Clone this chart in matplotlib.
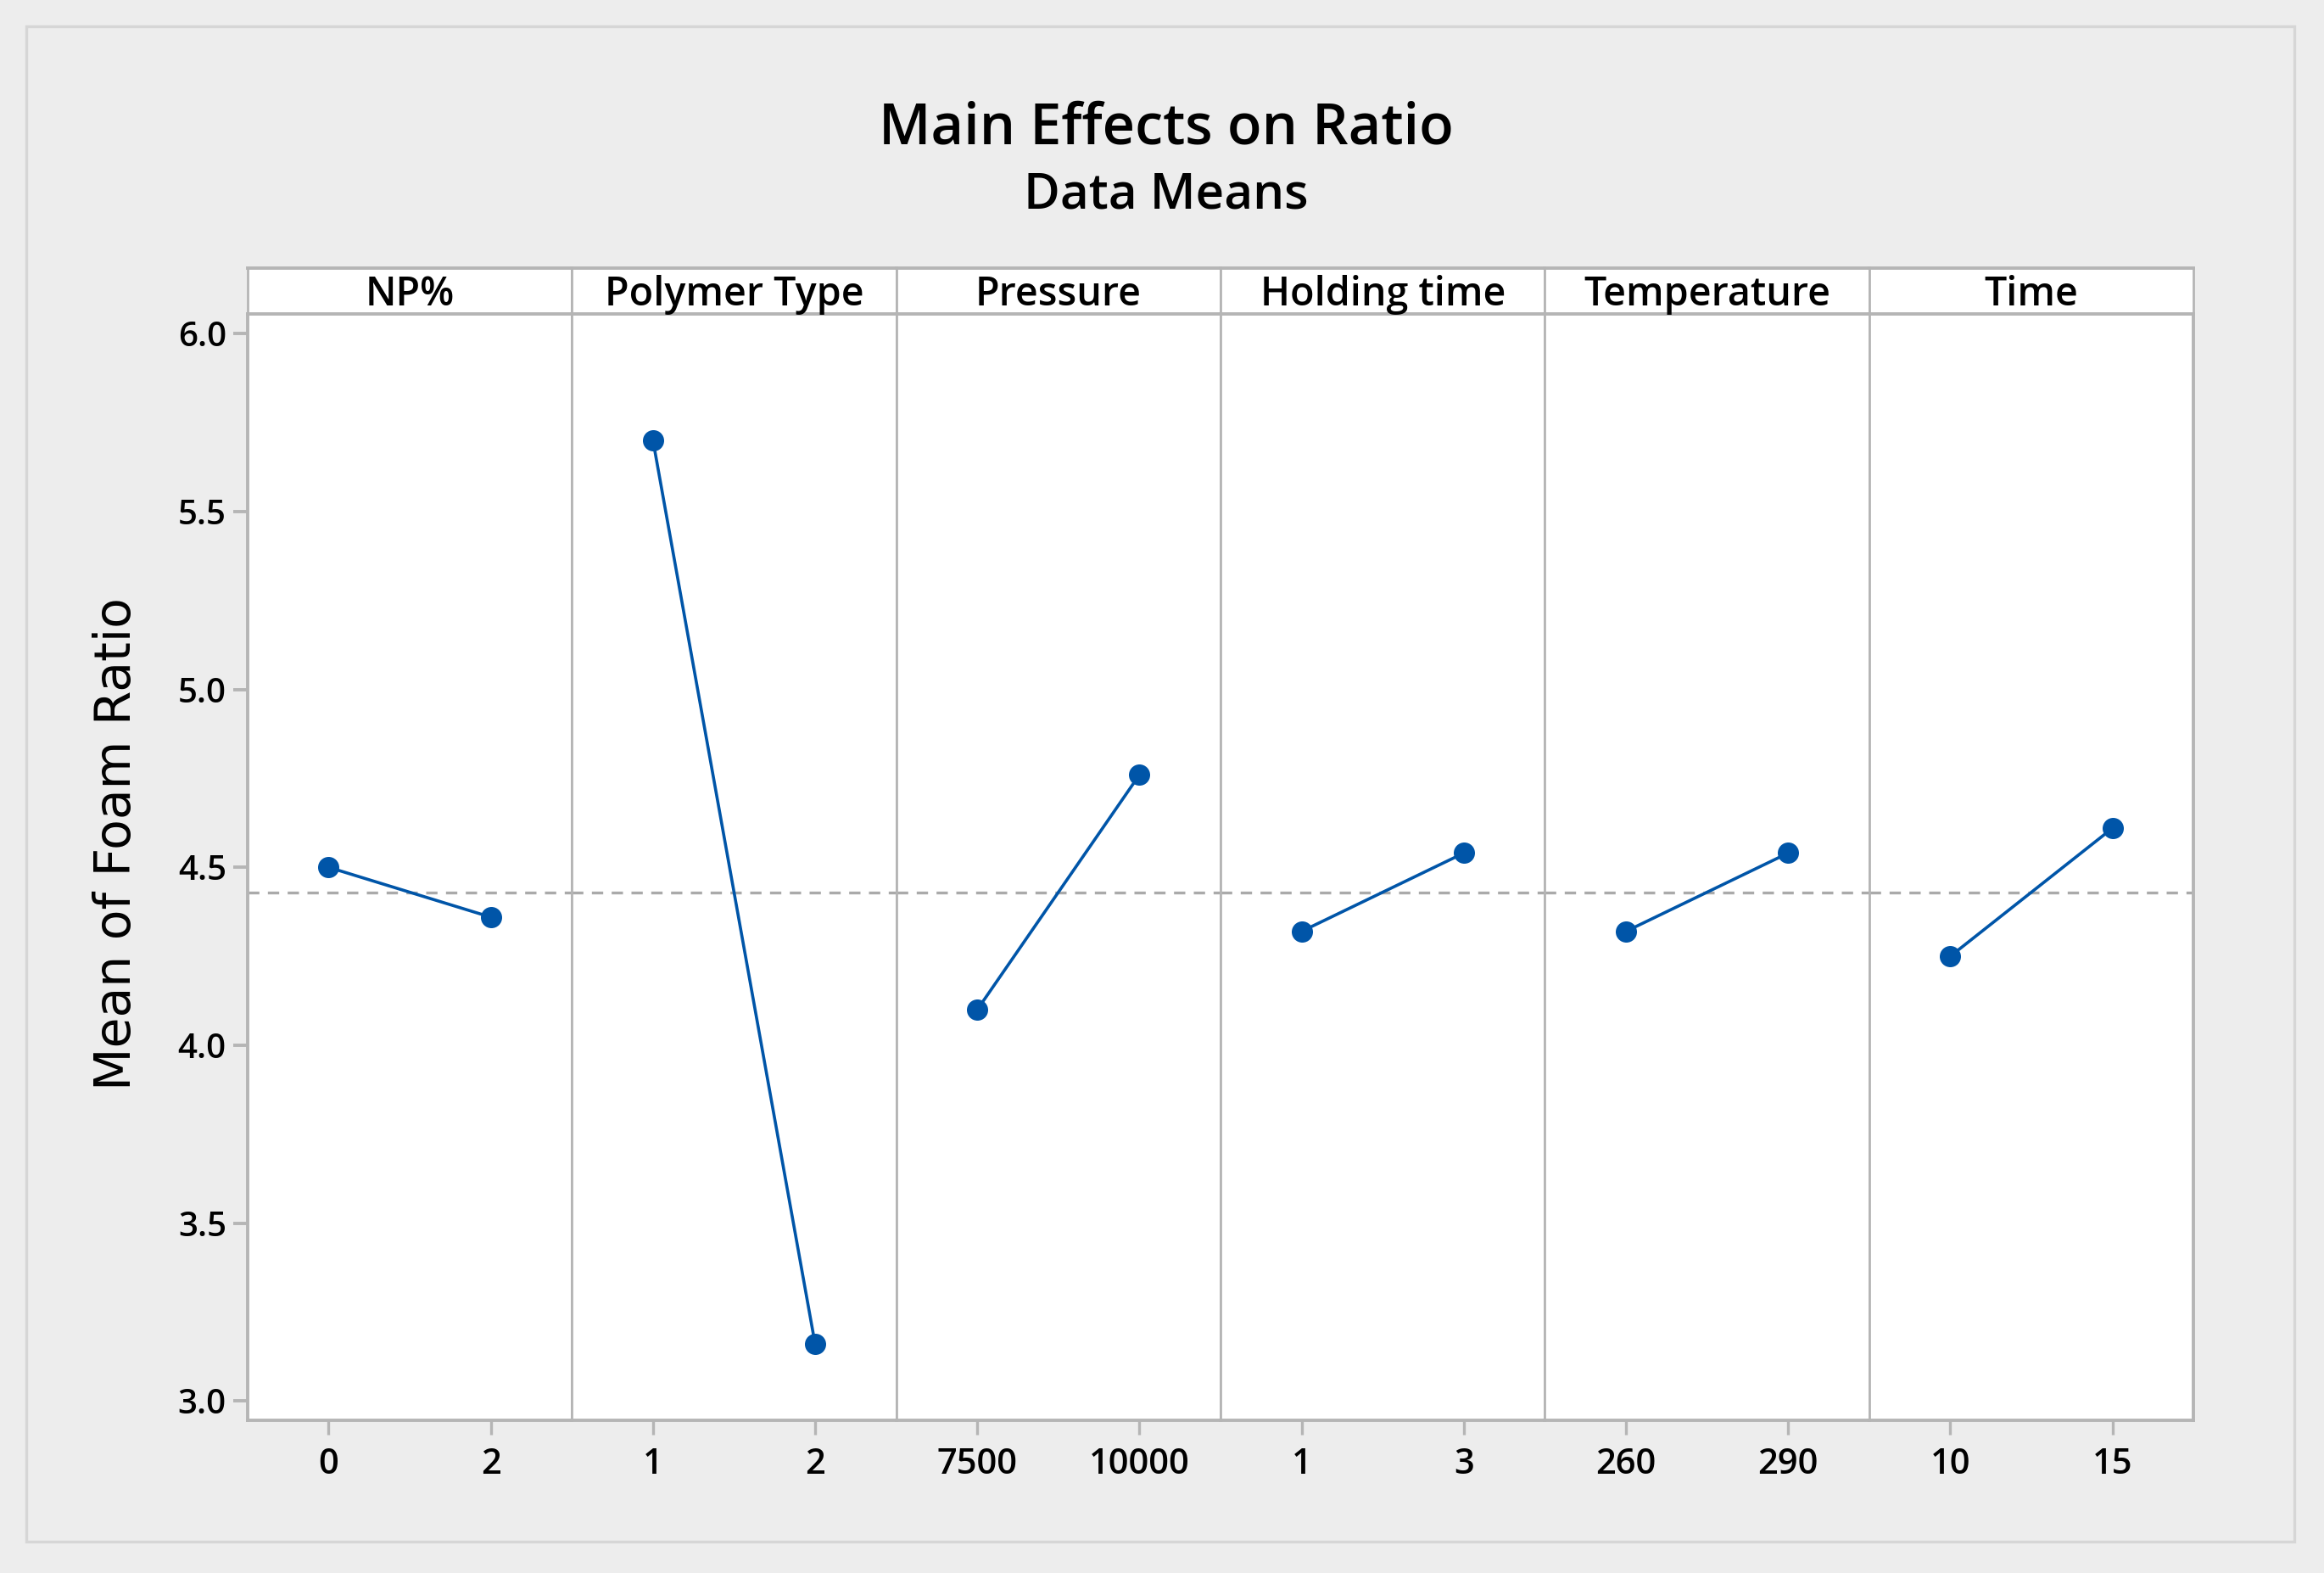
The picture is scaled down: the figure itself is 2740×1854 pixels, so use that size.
import matplotlib
matplotlib.use("Agg")
import matplotlib.pyplot as plt
from matplotlib.patches import Rectangle

# factor names and their two levels (as shown on the x axis)
factors = ["NP%", "Polymer Type", "Pressure", "Holding time", "Temperature", "Time"]
levels = [["0", "2"], ["1", "2"], ["7500", "10000"], ["1", "3"], ["260", "290"], ["10", "15"]]
# mean of foam ratio at each level
means = [[4.50, 4.36], [5.70, 3.16], [4.10, 4.76], [4.32, 4.54], [4.32, 4.54], [4.25, 4.61]]
grand_mean = 4.43

yticks = [3.0, 3.5, 4.0, 4.5, 5.0, 5.5, 6.0]

blue = "#0055A8"
frame = "#B5B5B5"
bg = "#EDEDED"

plt.rcParams['font.family'] = ['Open Sans', 'DejaVu Sans']

fig = plt.figure(figsize=(13.7, 9.27), dpi=200, facecolor=bg)
# faint outer border
fig.patches.append(Rectangle((18 / 1568, 1 - 1040 / 1061), (1548 - 18) / 1568, (1040 - 18) / 1061,
                             transform=fig.transFigure, fill=False, edgecolor="#D6D6D6", lw=1.2))

left, right = 167 / 1568, 1480 / 1568
bottom, top = 1 - 958 / 1061, 1 - 212 / 1061
strip_top = 1 - 181 / 1061
w = (right - left) / len(factors)

for i, name in enumerate(factors):
    ax = fig.add_axes([left + i * w, bottom, w, top - bottom])
    ax.set_facecolor("white")
    ax.axhline(grand_mean, color="#AAAAAA", lw=1.2, ls=(0, (4, 3)), zorder=1)
    ax.plot([0, 1], means[i], color=blue, lw=1.3, marker="o", ms=8, zorder=3)
    ax.set_xlim(-0.5, 1.5)
    ax.set_ylim(2.946, 6.054)
    ax.set_xticks([0, 1])
    ax.set_xticklabels(levels[i], fontsize=15, fontweight="semibold")
    for s in ax.spines.values():
        s.set_color(frame)
        s.set_linewidth(1.0)
    ax.spines["bottom"].set_linewidth(1.4)
    ax.tick_params(axis="x", length=6, width=1.2, color=frame, pad=5)
    if i == 0:
        ax.set_yticks(yticks)
        ax.set_yticklabels([f"{v:.1f}" for v in yticks], fontsize=14.5, fontweight="semibold")
        ax.tick_params(axis="y", length=6, width=1.4, color=frame, pad=3)
        ax.spines["left"].set_linewidth(1.4)
        ax.set_ylabel("Mean of Foam Ratio", fontsize=21, fontfamily="DejaVu Sans")
        ax.yaxis.set_label_coords(-0.33, 0.5215)
    else:
        ax.set_yticks([])
    if i == len(factors) - 1:
        ax.spines["right"].set_linewidth(1.4)

    sx = fig.add_axes([left + i * w, top, w, strip_top - top])
    sx.set_facecolor("white")
    sx.set_xticks([])
    sx.set_yticks([])
    for s in sx.spines.values():
        s.set_color(frame)
        s.set_linewidth(1.0)
    sx.spines["top"].set_linewidth(1.4)
    sx.spines["bottom"].set_linewidth(1.4)
    sx.text(0.5, 0.42, name, ha="center", va="center", fontsize=16.8, fontweight="semibold",
            transform=sx.transAxes)

fig.text(787 / 1568, 1 - 87 / 1061, "Main Effects on Ratio", ha="center", va="center",
         fontsize=24, fontweight="semibold")
fig.text(787 / 1568, 1 - 132 / 1061, "Data Means", ha="center", va="center",
         fontsize=21, fontweight="semibold")

fig.savefig("out.png", dpi=200, facecolor=bg)
